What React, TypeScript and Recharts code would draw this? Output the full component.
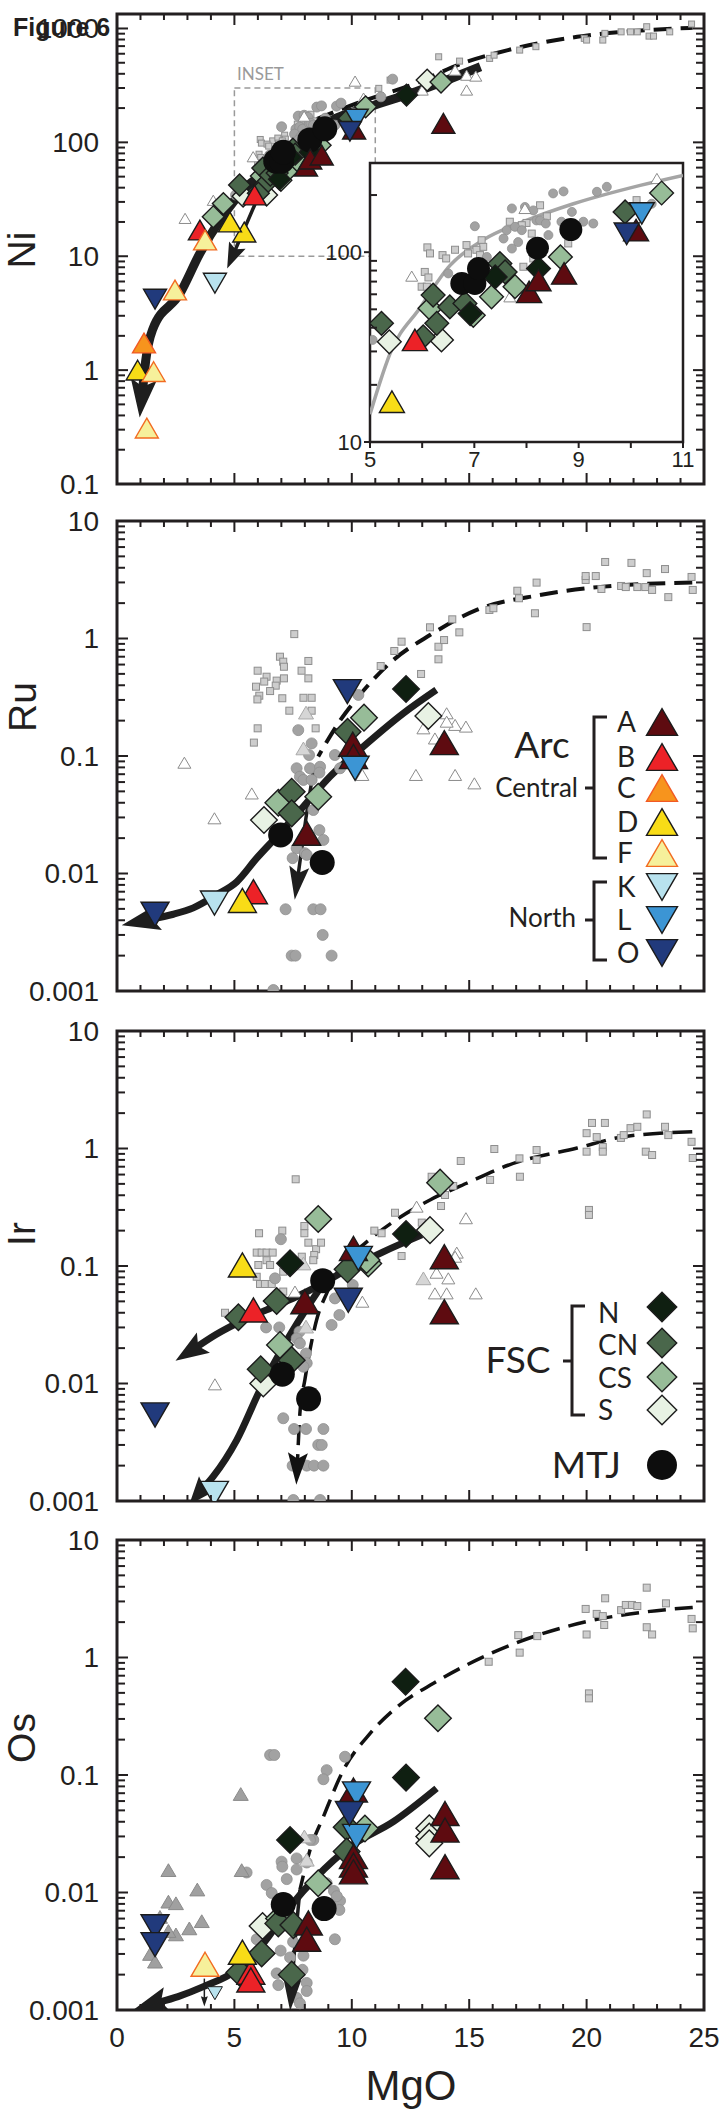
import React from 'react';
import { ComposedChart, Scatter, Line, XAxis, YAxis, ReferenceArea } from 'recharts';

type P = [number, number];

// ===================== Ni panel data (MgO, Ni) =====================
const niA: P[] = [[8.05, 61.8], [8.23, 71.3], [8.72, 77.3], [10.1, 130.6], [13.9, 147]];
const niB: P[] = [[5.86, 34.5], [3.53, 17]];
const niC: P[] = [[1.15, 1.73]];
const niD: P[] = [[5.42, 16.3], [4.81, 20], [0.88, 1.0]];
const niF: P[] = [[2.47, 5.05], [3.75, 13.9], [1.56, 0.97], [1.27, 0.31]];
const niK: P[] = [[4.17, 5.8]];
const niL: P[] = [[10.21, 160]];
const niO: P[] = [[9.92, 125], [1.62, 4.2]];
const niN: P[] = [[6.92, 47.5], [7.4, 74.1], [8.23, 82], [12.33, 260]];
const niCN: P[] = [[5.22, 42.2], [6.21, 59.4], [6.28, 42.2], [6.02, 35.8], [6.53, 51.5], [6.82, 53.7], [7.49, 87.1], [7.59, 78.7], [9.89, 163]];
const niCS: P[] = [[6.15, 50.6], [6.98, 46.5], [7.33, 58.2], [7.78, 65.8], [8.65, 94.4], [10.59, 205], [4.1, 22.2], [4.53, 29], [13.8, 339]];
const niS: P[] = [[5.37, 33.7], [6.37, 34.5], [13.21, 352]];
const niMTJ: P[] = [[6.76, 68.4], [7.01, 68.4], [7.08, 82], [8.21, 105], [8.85, 131.5]];
const niSq: P[] = [[6.1, 106], [6.15, 98.5], [6.63, 103], [6.85, 109], [7.14, 115.6], [6.88, 98.5], [6.39, 96.5], [6.46, 92.7], [6.05, 78.7], [6.12, 73.6], [5.99, 65.8], [6.09, 65.8], [7.17, 106.7], [7.04, 103], [7.11, 96.5], [7.94, 83.8], [8.13, 92.7], [8.26, 176.6], [8.39, 154.5], [8.0, 142.6], [7.91, 138.7], [8.1, 125.3], [8.26, 111.2], [8.8, 111.2], [10.11, 188], [7.68, 144.7], [11.15, 298], [11.63, 352], [13.7, 564], [14.59, 517], [15.87, 546], [16.06, 583], [17.15, 646], [17.84, 692], [19.9, 819], [20.0, 791], [20.69, 791], [20.78, 906], [21.47, 934], [21.87, 934], [22.16, 934], [22.56, 1036], [22.66, 857], [22.85, 857], [23.54, 934], [24.47, 1094]];
const niCirc: P[] = [[7.01, 137], [7.62, 130.6], [7.72, 170], [7.78, 136], [7.91, 130.6], [7.97, 173], [8.13, 166], [8.19, 147], [8.26, 147], [8.37, 141.6], [8.42, 123], [8.51, 204], [8.71, 209], [8.67, 144.7], [8.87, 163], [9.09, 144.7], [9.28, 141.6], [9.35, 208], [9.54, 221], [6.5, 77.3], [7.56, 118], [7.84, 113], [5.05, 34.5], [10.4, 180], [7.72, 104.5], [7.24, 94.4], [7.4, 87], [11.74, 359], [11.24, 251]];
const niOpen: P[] = [[5.8, 74.8], [7.97, 170], [10.5, 244.5], [7.68, 58.2], [2.9, 21.5], [4.1, 31], [10.14, 345], [14.4, 431], [14.89, 389], [15.28, 382], [14.89, 288], [13.0, 288]];
const niMainLine: P[] = [[15.48, 461], [12.72, 278], [10.75, 205], [9.18, 157], [7.79, 98], [6.66, 61], [5.52, 40.8], [4.39, 20.8], [3.53, 10.6], [2.68, 4.7], [1.51, 2.25], [1.22, 1.2], [1.1, 0.7]];
const niDashLine: P[] = [[8.5, 160], [10.17, 219], [12.72, 330], [14.69, 493], [16.65, 646], [19.6, 845], [22.56, 968], [24.52, 1014]];
const niArrowLine: P[] = [[6.6, 50], [5.95, 31], [5.03, 11.3]];
const insetCurve: P[] = [[5.0, 14], [5.2, 21], [5.38, 29], [5.96, 51], [6.53, 85], [7.17, 116], [8.0, 147], [8.9, 180], [10.18, 225], [11.0, 254]];

// ===================== Ru panel data =====================
const ruA: P[] = [[8.08, 0.022], [10.04, 0.126], [10.07, 0.099], [13.94, 0.13]];
const ruB: P[] = [[5.81, 0.007]];
const ruD: P[] = [[5.34, 0.0059]];
const ruK: P[] = [[4.15, 0.0056]];
const ruL: P[] = [[10.14, 0.0785]];
const ruO: P[] = [[1.62, 0.0045], [9.81, 0.353]];
const ruN: P[] = [[12.31, 0.372]];
const ruCN: P[] = [[7.44, 0.0497], [7.44, 0.0325], [9.82, 0.161]];
const ruCS: P[] = [[6.87, 0.04], [8.57, 0.045], [10.52, 0.212]];
const ruS: P[] = [[6.26, 0.0285], [13.26, 0.219]];
const ruMTJ: P[] = [[6.97, 0.0213], [8.74, 0.0124]];
const ruSq: P[] = [[7.55, 1.09], [6.94, 0.7], [7.08, 0.635], [7.11, 0.575], [5.99, 0.532], [6.37, 0.473], [6.27, 0.43], [6.8, 0.438], [6.76, 0.397], [7.11, 0.458], [7.86, 0.532], [8.15, 0.644], [8.15, 0.458], [5.92, 0.389], [6.06, 0.326], [5.98, 0.303], [6.52, 0.357], [7.04, 0.31], [7.94, 0.313], [8.29, 0.313], [7.34, 0.243], [8.29, 0.243], [5.99, 0.172], [8.46, 0.172], [5.83, 0.13], [11.23, 0.583], [11.81, 0.783], [12.12, 0.94], [12.95, 0.499], [13.33, 1.245], [13.69, 0.851], [13.93, 0.97], [13.69, 0.665], [14.28, 1.456], [14.58, 1.128], [15.86, 1.75], [16.03, 1.81], [17.05, 2.55], [17.12, 2.2], [17.8, 1.64], [17.87, 2.99], [20.0, 1.25], [19.96, 3.15], [19.96, 3.4], [20.39, 3.4], [20.63, 2.64], [20.79, 4.48], [21.47, 2.8], [21.67, 2.74], [21.91, 4.4], [22.16, 2.74], [22.56, 3.6], [22.5, 2.74], [22.79, 2.59], [23.34, 3.9], [23.48, 2.25], [24.47, 3.34], [24.52, 2.59]];
const ruCirc: P[] = [[7.72, 0.166], [8.29, 0.128], [8.18, 0.102], [7.65, 0.0786], [7.79, 0.0667], [8.22, 0.0786], [8.65, 0.081], [8.62, 0.0722], [7.94, 0.0625], [8.29, 0.0625], [8.36, 0.0347], [8.62, 0.0234], [8.79, 0.0193], [7.65, 0.0164], [8.0, 0.0149], [7.48, 0.0135], [8.08, 0.0144], [7.18, 0.00496], [8.36, 0.00496], [8.67, 0.00496], [8.76, 0.003], [7.44, 0.002], [7.6, 0.002], [9.14, 0.002], [6.66, 0.00102], [9.28, 0.102], [9.5, 0.0786], [10.28, 0.331]];
const ruOpen: P[] = [[2.87, 0.0877], [4.15, 0.0295], [5.74, 0.048], [10.45, 0.069], [12.73, 0.069], [14.4, 0.069], [15.22, 0.0585], [14.04, 0.231], [14.4, 0.184], [14.86, 0.178], [13.05, 0.172], [13.54, 0.141], [14.04, 0.196]];
const ruLightTri: P[] = [[8.05, 0.234], [7.94, 0.116]];
const ruMainLine: P[] = [[13.6, 0.365], [12.2, 0.231], [10.49, 0.12], [9.07, 0.0667], [7.94, 0.0372], [6.8, 0.0206], [5.95, 0.0135], [5.1, 0.0085], [4.25, 0.0066], [3.25, 0.0051], [2.4, 0.0045], [1.45, 0.0041]];
const ruDashLine: P[] = [[24.5, 3.0], [20.6, 2.75], [18.0, 2.34], [15.32, 1.75], [13.33, 1.07], [11.77, 0.656], [10.28, 0.32], [9.5, 0.2], [8.57, 0.099]];
const ruArrowLine: P[] = [[8.39, 0.081], [8.05, 0.03], [7.72, 0.0099]];

// ===================== Ir panel data =====================
const irA: P[] = [[8.0, 0.0497], [10.07, 0.141], [13.94, 0.12], [13.94, 0.0408]];
const irB: P[] = [[5.81, 0.0423]];
const irD: P[] = [[5.34, 0.102]];
const irK: P[] = [[4.15, 0.00116]];
const irL: P[] = [[10.28, 0.116]];
const irO: P[] = [[1.62, 0.0054], [9.85, 0.051]];
const irN: P[] = [[7.37, 0.1054], [12.31, 0.187]];
const irCN: P[] = [[5.17, 0.0366], [6.8, 0.0503], [7.44, 0.0158], [6.12, 0.0132], [9.82, 0.0937]];
const irCS: P[] = [[8.57, 0.251], [6.94, 0.0213], [10.7, 0.105], [10.63, 0.1125], [13.76, 0.512]];
const irS: P[] = [[6.23, 0.01], [13.33, 0.202]];
const irMTJ: P[] = [[8.76, 0.075], [7.04, 0.012], [8.16, 0.0074]];
const irSq: P[] = [[7.61, 0.547], [6.05, 0.19], [7.04, 0.2], [7.98, 0.219], [7.98, 0.19], [8.15, 0.158], [8.48, 0.139], [8.69, 0.158], [8.4, 0.124], [8.36, 0.112], [7.87, 0.12], [5.95, 0.13], [6.16, 0.13], [6.37, 0.13], [6.63, 0.13], [6.02, 0.102], [6.37, 0.112], [6.52, 0.102], [7.08, 0.0895], [5.95, 0.081], [6.09, 0.0703], [6.3, 0.0703], [6.59, 0.0703], [7.08, 0.0606], [4.6, 0.04], [11.84, 0.284], [12.12, 0.1216], [10.96, 0.2], [11.27, 0.19], [13.8, 0.324], [13.97, 0.402], [14.32, 0.48], [14.64, 0.783], [16.07, 0.99], [15.89, 0.54], [17.14, 0.824], [17.16, 0.575], [17.87, 0.97], [17.87, 0.8], [13.4, 0.575], [12.98, 0.234], [20.0, 1.35], [20.0, 0.94], [20.23, 1.65], [20.43, 1.25], [20.69, 1.03], [20.69, 0.94], [20.78, 1.65], [21.46, 1.23], [21.58, 1.3], [21.87, 1.49], [22.16, 1.53], [22.56, 1.95], [22.52, 0.94], [22.79, 0.88], [23.34, 1.53], [23.48, 1.3], [24.47, 1.14], [24.52, 0.83], [20.1, 0.3], [20.1, 0.272]];
const irCirc: P[] = [[6.98, 0.169], [6.73, 0.0785], [6.35, 0.03], [6.91, 0.03], [7.77, 0.0276], [7.65, 0.0242], [7.79, 0.022], [8.05, 0.018], [8.08, 0.0149], [7.94, 0.0139], [9.28, 0.053], [9.47, 0.0383], [9.14, 0.0315], [10.04, 0.069], [7.08, 0.00506], [7.54, 0.0041], [8.05, 0.0041], [8.79, 0.0041], [8.57, 0.003], [8.72, 0.003], [7.48, 0.002], [8.08, 0.002], [8.39, 0.002], [8.79, 0.002], [7.51, 0.00102], [8.65, 0.00102]];
const irOpen: P[] = [[7.58, 0.0606], [4.17, 0.00984], [10.45, 0.0497], [12.76, 0.32], [14.86, 0.255], [14.47, 0.13], [13.61, 0.0877], [14.11, 0.0785], [13.54, 0.0585], [14.04, 0.0585], [15.28, 0.0585], [14.4, 0.12]];
const irLightTri: P[] = [[8.05, 0.0305], [13.05, 0.0785], [7.94, 0.105]];
const irMainLine: P[] = [[12.98, 0.184], [11.34, 0.132], [9.64, 0.0895], [8.65, 0.069], [7.65, 0.0548], [6.37, 0.0423], [5.1, 0.0325], [4.2, 0.026], [3.42, 0.0206]];
const irSteepLine: P[] = [[8.79, 0.0713], [7.94, 0.0395], [7.08, 0.0206], [6.09, 0.0088], [5.1, 0.0033], [4.1, 0.00162], [3.68, 0.00129]];
const irDashLine: P[] = [[24.5, 1.39], [21.58, 1.26], [19.6, 1.01], [16.65, 0.72], [14.89, 0.506], [13.33, 0.365], [11.77, 0.238], [10.56, 0.156], [9.64, 0.105], [8.93, 0.0585], [8.5, 0.0347], [8.22, 0.0193], [8.0, 0.0107], [7.79, 0.0056], [7.69, 0.00224]];

// ===================== Os panel data =====================
const osA: P[] = [[8.15, 0.0055], [8.08, 0.004], [10.07, 0.0745], [10.07, 0.0202], [10.07, 0.0171], [10.07, 0.015], [13.97, 0.047], [13.97, 0.034], [13.97, 0.0166]];
const osB: P[] = [[5.7, 0.0021], [5.7, 0.0018]];
const osD: P[] = [[5.34, 0.0031]];
const osF: P[] = [[3.75, 0.00245]];
const osK: P[] = [[4.17, 0.00139]];
const osL: P[] = [[10.2, 0.069], [10.2, 0.03]];
const osO: P[] = [[1.62, 0.0051], [1.62, 0.0036], [9.9, 0.047]];
const osN: P[] = [[7.37, 0.028], [12.31, 0.095], [12.29, 0.622]];
const osCN: P[] = [[5.21, 0.00209], [6.16, 0.00303], [6.87, 0.00546], [7.51, 0.00528], [7.44, 0.002], [9.78, 0.036], [9.78, 0.0223]];
const osCS: P[] = [[6.9, 0.006], [8.57, 0.012], [10.56, 0.035], [13.67, 0.304]];
const osS: P[] = [[6.2, 0.00518], [13.3, 0.0352], [13.3, 0.0299], [13.3, 0.0262]];
const osMTJ: P[] = [[7.08, 0.0079], [8.82, 0.0073]];
const osSq: P[] = [[15.83, 0.92], [17.09, 1.55], [17.15, 1.1], [17.9, 1.52], [19.96, 2.59], [20.0, 1.57], [20.43, 2.35], [20.69, 2.25], [20.75, 1.89], [20.79, 3.19], [21.47, 2.53], [21.67, 2.8], [21.93, 2.8], [22.16, 2.74], [22.56, 3.93], [22.56, 1.81], [22.79, 1.57], [23.38, 2.89], [24.47, 2.13], [24.52, 1.77], [20.1, 0.495], [20.1, 0.449]];
const osCirc: P[] = [[6.52, 0.148], [6.7, 0.148], [9.71, 0.143], [8.93, 0.11], [8.79, 0.092], [8.36, 0.028], [7.01, 0.0183], [7.04, 0.0166], [7.65, 0.0195], [7.65, 0.0157], [8.08, 0.018], [7.23, 0.013], [6.37, 0.0116], [6.59, 0.0099], [9.24, 0.0103], [9.5, 0.0085], [9.47, 0.0071], [9.28, 0.004], [6.97, 0.0032], [5.95, 0.004], [6.8, 0.00205], [6.87, 0.00163], [7.37, 0.0028], [7.94, 0.0029], [8.08, 0.0017], [8.08, 0.00145], [7.65, 0.00127], [7.79, 0.00114], [8.93, 0.012], [9.36, 0.0093], [5.52, 0.0148], [8.22, 0.028], [7.9, 0.0022], [8.2, 0.0035], [7.5, 0.0038]];
const osGrayTri: P[] = [[5.27, 0.0689], [2.19, 0.0155], [5.31, 0.0155], [3.42, 0.0106], [2.19, 0.00836], [2.51, 0.0081], [1.83, 0.0062], [3.61, 0.0057], [3.08, 0.00495], [2.51, 0.0044], [2.19, 0.0047], [1.41, 0.003], [1.62, 0.00258]];
const osLightTri: P[] = [[7.98, 0.03], [8.08, 0.019]];
const osMainLine: P[] = [[13.61, 0.077], [11.77, 0.0401], [9.92, 0.0245], [8.5, 0.0136], [7.37, 0.00757], [6.23, 0.00369], [5.1, 0.00219], [3.68, 0.00158], [2.6, 0.0013], [1.83, 0.00117]];
const osDashLine: P[] = [[24.52, 2.67], [22.56, 2.45], [20.0, 2.02], [17.0, 1.33], [14.89, 0.863], [13.5, 0.607], [11.94, 0.381], [10.78, 0.226], [9.64, 0.11], [8.79, 0.0442], [8.22, 0.023], [7.79, 0.0105]];
const osArrowLine: P[] = [[7.79, 0.0105], [7.6, 0.0042], [7.45, 0.0016]];
const osSmallArrow: P[] = [[3.72, 0.00185], [3.72, 0.00125]];

// ===================== axes =====================
const xMajorTicks = [0, 5, 10, 15, 20, 25];
const niYDomain: P = [0.1, 1340];
const logYDomain: P = [0.001, 10];
const insetX: P = [5, 11];
const insetY: P = [10, 295];

// ===================== styles =====================
const INK = '#231f20';
const FONT = '"Liberation Sans", Arial, Helvetica, sans-serif';
const LFONT = 'Lato, "Open Sans", "Noto Sans", sans-serif';
const COL = {
  A: '#5e0b10', B: '#ec2227', C: '#f7941d', D: '#f8dc17', F: '#f6f09b',
  K: '#b8e2ee', L: '#3c95d4', O: '#213a7c',
  N: '#0f1f11', CN: '#4a674b', CS: '#97bc98', S: '#e8f2e4', MTJ: '#0d0d0d',
};

type Marker = (p: any) => React.ReactElement;

const triUp = (fill: string, stroke: string, w: number, h: number, sw = 1.4): Marker => (p: any) => {
  const { cx, cy } = p;
  if (cx == null || cy == null) return <g />;
  return <polygon points={`${cx},${cy - h / 2} ${cx + w / 2},${cy + h / 2} ${cx - w / 2},${cy + h / 2}`} fill={fill} stroke={stroke} strokeWidth={sw} />;
};
const triDown = (fill: string, stroke: string, w: number, h: number, sw = 1.4): Marker => (p: any) => {
  const { cx, cy } = p;
  if (cx == null || cy == null) return <g />;
  return <polygon points={`${cx - w / 2},${cy - h / 2} ${cx + w / 2},${cy - h / 2} ${cx},${cy + h / 2}`} fill={fill} stroke={stroke} strokeWidth={sw} />;
};
const diamond = (fill: string, w: number, h: number): Marker => (p: any) => {
  const { cx, cy } = p;
  if (cx == null || cy == null) return <g />;
  return <polygon points={`${cx},${cy - h / 2} ${cx + w / 2},${cy} ${cx},${cy + h / 2} ${cx - w / 2},${cy}`} fill={fill} stroke="#1b1b1b" strokeWidth={1.4} />;
};
const circ = (fill: string, r: number, stroke = 'none', sw = 0): Marker => (p: any) => {
  const { cx, cy } = p;
  if (cx == null || cy == null) return <g />;
  return <circle cx={cx} cy={cy} r={r} fill={fill} stroke={stroke} strokeWidth={sw} />;
};
const sq = (fill: string, stroke: string, s: number): Marker => (p: any) => {
  const { cx, cy } = p;
  if (cx == null || cy == null) return <g />;
  return <rect x={cx - s / 2} y={cy - s / 2} width={s} height={s} fill={fill} stroke={stroke} strokeWidth={1} />;
};

function groupShapes(s: number, r: number) {
  const th = s * 0.86;
  const k = '#1b1b1b';
  return {
    A: triUp(COL.A, k, s, th), B: triUp(COL.B, k, s, th), C: triUp(COL.C, '#f15a24', s, th),
    D: triUp(COL.D, k, s, th), F: triUp(COL.F, '#f26b21', s, th),
    K: triDown(COL.K, k, s, th), L: triDown(COL.L, k, s, th), O: triDown(COL.O, k, s, th),
    N: diamond(COL.N, s * 0.95, s * 0.95), CN: diamond(COL.CN, s * 0.95, s * 0.95),
    CS: diamond(COL.CS, s * 0.95, s * 0.95), S: diamond(COL.S, s * 0.95, s * 0.95),
    MTJ: circ(COL.MTJ, r),
  };
}

function bgShapes(sqS: number, cr: number, tw: number) {
  return {
    sq: sq('#cdcdcd', '#8e8e8e', sqS),
    circ: circ('#a2a2a2', cr, '#8f8f8f', 0.8),
    open: triUp('#ffffff', '#8c8c8c', tw, tw * 0.85, 1),
    gray: triUp('#a0a0a0', '#8a8a8a', tw + 2, (tw + 2) * 0.85, 1),
    light: triUp('#d6d6d6', '#aaaaaa', tw + 2, (tw + 2) * 0.85, 1),
  };
}

function makeArrowDot(n: number, len: number, half: number, color: string) {
  const pts: { x: number; y: number }[] = [];
  return (props: any) => {
    const { cx, cy, index } = props;
    pts[index] = { x: cx, y: cy };
    if (index !== n - 1 || index < 1) return <g key={`ad${index}`} />;
    const prev = (props.points && props.points[index - 1]) || pts[index - 1];
    const dx = cx - prev.x;
    const dy = cy - prev.y;
    const d = Math.hypot(dx, dy) || 1;
    const ux = dx / d, uy = dy / d;
    const px = -uy, py = ux;
    const back = len * 0.28;
    const tip = `${cx + ux * len},${cy + uy * len}`;
    const wl = `${cx - ux * back + px * half},${cy - uy * back + py * half}`;
    const wr = `${cx - ux * back - px * half},${cy - uy * back - py * half}`;
    const notch = `${cx - ux * 1},${cy - uy * 1}`;
    return <polygon key={`ad${index}`} points={`${tip} ${wl} ${notch} ${wr}`} fill={color} />;
  };
}

const xy = (a: P[]) => a.map(([x, y]) => ({ x, y }));

function logTicks(lo: number, hi: number) {
  const major: number[] = [];
  const minor: number[] = [];
  for (let e = Math.round(Math.log10(lo)); Math.pow(10, e) <= hi; e++) {
    const d = Math.pow(10, e);
    major.push(+d.toPrecision(3));
    for (let m = 2; m <= 9; m++) {
      const v = +(m * d).toPrecision(3);
      if (v < hi) minor.push(v);
    }
  }
  return { major, minor };
}

const tickShape = (side: string, maj: number, min: number): Marker => (p: any) => {
  const { cx, cy, payload } = p;
  if (cx == null || cy == null) return <g />;
  const L = payload && payload.major ? maj : min;
  let x2 = cx, y2 = cy;
  if (side === 'l') x2 = cx + L;
  else if (side === 'r') x2 = cx - L;
  else if (side === 't') y2 = cy + L;
  else y2 = cy - L;
  return <line x1={cx} y1={cy} x2={x2} y2={y2} stroke={INK} strokeWidth={2} />;
};

type SeriesSpec = { data: P[]; shape: Marker };
type LineSpec = { data: P[]; width: number; color: string; dash?: string; arrow?: [number, number]; curve?: string };

function seriesEls(prefix: string, list: SeriesSpec[]) {
  return list.map((s, i) => (
    <Scatter key={`${prefix}${i}`} data={xy(s.data)} dataKey="y" shape={s.shape} isAnimationActive={false} />
  ));
}

function lineEls(prefix: string, list: LineSpec[]) {
  return list.map((l, i) => (
    <Line
      key={`${prefix}${i}`}
      data={xy(l.data)}
      dataKey="y"
      type={(l.curve || 'monotone') as any}
      stroke={l.color}
      strokeWidth={l.width}
      strokeDasharray={l.dash}
      strokeLinecap="butt"
      strokeLinejoin="round"
      dot={l.arrow ? makeArrowDot(l.data.length, l.arrow[0], l.arrow[1], l.color) : false}
      activeDot={false}
      isAnimationActive={false}
    />
  ));
}

function tickEls(prefix: string, xd: P, yd: P) {
  const { major, minor } = logTicks(yd[0], yd[1]);
  const yT = [...major.map((v) => ({ v, major: true })), ...minor.map((v) => ({ v, major: false }))];
  const xT: { v: number; major: boolean }[] = [];
  for (let v = xd[0]; v <= xd[1]; v++) xT.push({ v, major: xMajorTicks.includes(v) });
  return [
    <Scatter key={`${prefix}tl`} data={yT.map((t) => ({ x: xd[0], y: t.v, major: t.major }))} dataKey="y" shape={tickShape('l', 11, 8)} isAnimationActive={false} />,
    <Scatter key={`${prefix}tr`} data={yT.map((t) => ({ x: xd[1], y: t.v, major: t.major }))} dataKey="y" shape={tickShape('r', 11, 8)} isAnimationActive={false} />,
    <Scatter key={`${prefix}tt`} data={xT.map((t) => ({ x: t.v, y: yd[1], major: t.major }))} dataKey="y" shape={tickShape('t', 11, 6)} isAnimationActive={false} />,
    <Scatter key={`${prefix}tb`} data={xT.map((t) => ({ x: t.v, y: yd[0], major: t.major }))} dataKey="y" shape={tickShape('b', 11, 6)} isAnimationActive={false} />,
  ];
}

type PanelCfg = {
  id: string; top: number; mt: number; plotH: number; yDomain: P; showX: boolean;
  bg: SeriesSpec[]; lines: LineSpec[]; fg: SeriesSpec[]; extra?: React.ReactNode[];
};

function renderPanel(c: PanelCfg) {
  const xd: P = [0, 25];
  const { major } = logTicks(c.yDomain[0], c.yDomain[1]);
  const mb = c.showX ? 0 : 18;
  const height = c.mt + c.plotH + (c.showX ? 45 : mb);
  return (
    <div key={c.id} style={{ position: 'absolute', left: 0, top: c.top }}>
      <ComposedChart width={725} height={height} margin={{ top: c.mt, right: 21, bottom: mb, left: 17 }}>
        <XAxis
          dataKey="x" type="number" domain={xd} allowDataOverflow ticks={xMajorTicks} interval={0}
          hide={!c.showX} height={45} tickLine={false} axisLine={false} tickSize={6} tickMargin={11}
          tick={{ fontSize: 28, fill: INK, fontFamily: FONT }}
        />
        <YAxis
          type="number" scale="log" domain={c.yDomain} allowDataOverflow ticks={major} interval={0}
          width={100} tickLine={false} axisLine={false} tickSize={6} tickMargin={12}
          tick={{ fontSize: 28, fill: INK, fontFamily: FONT }}
        />
        {c.extra || null}
        {seriesEls(`${c.id}bg`, c.bg)}
        {lineEls(`${c.id}ln`, c.lines)}
        {seriesEls(`${c.id}fg`, c.fg)}
        {tickEls(c.id, xd, c.yDomain)}
        <ReferenceArea x1={xd[0]} x2={xd[1]} y1={c.yDomain[0]} y2={c.yDomain[1]} fill="none" fillOpacity={0} stroke={INK} strokeWidth={3} ifOverflow="visible" />
      </ComposedChart>
    </div>
  );
}

const inRange = (a: P[]) => a.filter(([x, y]) => x >= insetX[0] && x <= insetX[1] && y >= insetY[0] && y <= insetY[1]);

function fgList(g: any, d: Record<string, P[]>): SeriesSpec[] {
  const order = ['S', 'CS', 'CN', 'N', 'MTJ', 'A', 'B', 'C', 'D', 'F', 'K', 'L', 'O'];
  return order.filter((k) => d[k]).map((k) => ({ data: d[k], shape: g[k] }));
}

export default function App() {
  const gNi = groupShapes(23, 12.5);
  const gIn = groupShapes(25, 11.5);
  const gBig = groupShapes(28, 12.5);
  const gLeg = groupShapes(31, 15);
  const bNi = bgShapes(6, 5, 12);
  const bIn = bgShapes(7, 4.5, 12);
  const bBig = bgShapes(7, 5.5, 13);

  const niData: Record<string, P[]> = { A: niA, B: niB, C: niC, D: niD, F: niF, K: niK, L: niL, O: niO, N: niN, CN: niCN, CS: niCS, S: niS, MTJ: niMTJ };
  const insetData: Record<string, P[]> = {};
  Object.keys(niData).forEach((k) => { insetData[k] = inRange(niData[k]); });

  const panels: PanelCfg[] = [
    {
      id: 'ni', top: 0, mt: 14, plotH: 470, yDomain: niYDomain, showX: false,
      extra: [<ReferenceArea key="insetbox" x1={5} x2={11} y1={10} y2={300} fill="none" fillOpacity={0} stroke="#9a9a9a" strokeWidth={1.5} strokeDasharray="6 4" ifOverflow="visible" />],
      bg: [{ data: niSq, shape: bNi.sq }, { data: niCirc, shape: bNi.circ }, { data: niOpen, shape: bNi.open }],
      lines: [
        { data: niDashLine, width: 4, color: '#111', dash: '18 9' },
        { data: niMainLine, width: 9, color: '#1e1e1e', arrow: [30, 13] },
        { data: niArrowLine, width: 3.5, color: '#1e1e1e', arrow: [20, 9], curve: 'linear' },
      ],
      fg: fgList(gNi, niData),
    },
    {
      id: 'ru', top: 500, mt: 21, plotH: 470, yDomain: logYDomain, showX: false,
      bg: [{ data: ruSq, shape: bBig.sq }, { data: ruCirc, shape: bBig.circ }, { data: ruOpen, shape: bBig.open }, { data: ruLightTri, shape: bBig.light }],
      lines: [
        { data: ruDashLine, width: 4, color: '#111', dash: '18 9' },
        { data: ruMainLine, width: 7, color: '#1e1e1e', arrow: [30, 13] },
        { data: ruArrowLine, width: 3.5, color: '#1e1e1e', arrow: [26, 10], curve: 'linear' },
      ],
      fg: fgList(gBig, { A: ruA, B: ruB, D: ruD, K: ruK, L: ruL, O: ruO, N: ruN, CN: ruCN, CS: ruCS, S: ruS, MTJ: ruMTJ }),
    },
    {
      id: 'ir', top: 1010, mt: 21, plotH: 470, yDomain: logYDomain, showX: false,
      bg: [{ data: irSq, shape: bBig.sq }, { data: irCirc, shape: bBig.circ }, { data: irOpen, shape: bBig.open }, { data: irLightTri, shape: bBig.light }],
      lines: [
        { data: irDashLine, width: 3.5, color: '#111', dash: '20 9', arrow: [25, 10] },
        { data: irMainLine, width: 7, color: '#1e1e1e', arrow: [26, 12] },
        { data: irSteepLine, width: 7, color: '#1e1e1e', arrow: [22, 11] },
      ],
      fg: fgList(gBig, { A: irA, B: irB, D: irD, K: irK, L: irL, O: irO, N: irN, CN: irCN, CS: irCS, S: irS, MTJ: irMTJ }),
    },
    {
      id: 'os', top: 1520, mt: 20, plotH: 470, yDomain: logYDomain, showX: true,
      bg: [{ data: osSq, shape: bBig.sq }, { data: osCirc, shape: bBig.circ }, { data: osGrayTri, shape: bBig.gray }, { data: osLightTri, shape: bBig.light }],
      lines: [
        { data: osDashLine, width: 3.5, color: '#111', dash: '18 9' },
        { data: osArrowLine, width: 3.5, color: '#1e1e1e', arrow: [25, 9], curve: 'linear' },
        { data: osMainLine, width: 7, color: '#1e1e1e', arrow: [28, 13] },
        { data: osSmallArrow, width: 1.5, color: '#1e1e1e', arrow: [8, 3.5], curve: 'linear' },
      ],
      fg: [
        ...fgList(gBig, { A: osA, B: osB, D: osD, F: osF, L: osL, O: osO, N: osN, CN: osCN, CS: osCS, S: osS, MTJ: osMTJ }),
        { data: osK, shape: triDown(COL.K, '#1b1b1b', 15, 13, 1) },
      ],
    },
  ];

  const insetMinor = [20, 30, 40, 50, 60, 70, 80, 90, 200];

  const legendMark = (k: string, y: number) => (gLeg as any)[k]({ cx: 662, cy: y });

  return (
    <div style={{ position: 'absolute', left: 0, top: 0, width: 725, height: 2112, background: '#fff', fontFamily: FONT }}>
      {panels.map(renderPanel)}

      {/* inset */}
      <div style={{ position: 'absolute', left: 370, top: 163, width: 313, height: 279, background: '#fff' }} />
      <div style={{ position: 'absolute', left: 300, top: 150 }}>
        <ComposedChart width={400} height={330} margin={{ top: 13, right: 17, bottom: 8, left: 20 }}>
          <XAxis
            dataKey="x" type="number" domain={insetX} allowDataOverflow ticks={[5, 6, 7, 8, 9, 10, 11]} interval={0}
            tickFormatter={(v: number) => (v % 2 === 1 ? String(v) : '')} height={30} tickSize={6} tickMargin={3}
            tickLine={{ stroke: INK, strokeWidth: 2 }} axisLine={false}
            tick={{ fontSize: 22, fill: INK, fontFamily: FONT }}
          />
          <YAxis
            type="number" scale="log" domain={insetY} allowDataOverflow ticks={[10, 100]} interval={0}
            width={50} tickSize={6} tickMargin={2} tickLine={{ stroke: INK, strokeWidth: 2 }} axisLine={false}
            tick={{ fontSize: 22, fill: INK, fontFamily: FONT }}
          />
          {seriesEls('inbg', [
            { data: inRange(niSq), shape: bIn.sq },
            { data: inRange(niCirc), shape: bIn.circ },
            { data: inRange(niOpen), shape: bIn.open },
          ])}
          {lineEls('inln', [{ data: insetCurve, width: 3.5, color: '#a5a5a5' }])}
          {seriesEls('infg', fgList(gIn, insetData))}
          <Scatter data={insetMinor.map((v) => ({ x: 5, y: v, major: false }))} dataKey="y" shape={tickShape('l', 8, 7)} isAnimationActive={false} />
          <ReferenceArea x1={5} x2={11} y1={insetY[0]} y2={insetY[1]} fill="none" fillOpacity={0} stroke={INK} strokeWidth={2.5} ifOverflow="visible" />
        </ComposedChart>
      </div>

      {/* text + legends overlay */}
      <svg width={725} height={2112} style={{ position: 'absolute', left: 0, top: 0, pointerEvents: 'none' }}>
        <text x={13} y={36} fontSize={25} fontWeight="bold" fontFamily={FONT} fill={INK}>Figure 6</text>
        <text x={237} y={80} fontSize={17} fontFamily={LFONT} fill="#9a9a9a">INSET</text>

        <text x={35} y={250} transform="rotate(-90 35 250)" textAnchor="middle" fontSize={39} fontFamily={FONT} fill={INK}>Ni</text>
        <text x={36} y={707} transform="rotate(-90 36 707)" textAnchor="middle" fontSize={39} fontFamily={FONT} fill={INK}>Ru</text>
        <text x={35} y={1234} transform="rotate(-90 35 1234)" textAnchor="middle" fontSize={39} fontFamily={FONT} fill={INK}>Ir</text>
        <text x={35} y={1738} transform="rotate(-90 35 1738)" textAnchor="middle" fontSize={39} fontFamily={FONT} fill={INK}>Os</text>
        <text x={411} y={2100} textAnchor="middle" fontSize={42} fontFamily={FONT} fill={INK}>MgO</text>

        {/* Arc legend */}
        <g fontFamily={LFONT} fill={INK}>
          <text x={542} y={758} textAnchor="middle" fontSize={37}>Arc</text>
          <text x={578} y={797} textAnchor="end" fontSize={26}>Central</text>
          <text x={576} y={927} textAnchor="end" fontSize={26}>North</text>
          {[['A', 732], ['B', 767], ['C', 798], ['D', 832], ['F', 863], ['K', 897], ['L', 930], ['O', 963]].map(([t, y]) => (
            <text key={t as string} x={617} y={y as number} fontSize={28}>{t}</text>
          ))}
          <text x={518} y={1373} textAnchor="middle" fontSize={37}>FSC</text>
          {[['N', 1323], ['CN', 1355], ['CS', 1388], ['S', 1420]].map(([t, y]) => (
            <text key={t as string} x={598} y={y as number} fontSize={28}>{t}</text>
          ))}
          <text x={621} y={1478} textAnchor="end" fontSize={37}>MTJ</text>
        </g>
        <g stroke={INK} strokeWidth={3} fill="none">
          <polyline points="607,717 594,717 594,858 607,858" />
          <line x1={585} y1={788} x2={594} y2={788} />
          <polyline points="607,882 594,882 594,960 607,960" />
          <line x1={585} y1={920} x2={594} y2={920} />
          <polyline points="585,1306 572,1306 572,1415 585,1415" />
          <line x1={563} y1={1361} x2={572} y2={1361} />
        </g>
        {legendMark('A', 722)}
        {legendMark('B', 757)}
        {legendMark('C', 788)}
        {legendMark('D', 822)}
        {legendMark('F', 853)}
        {legendMark('K', 887)}
        {legendMark('L', 920)}
        {legendMark('O', 953)}
        {legendMark('N', 1307)}
        {legendMark('CN', 1343)}
        {legendMark('CS', 1377)}
        {legendMark('S', 1410)}
        {legendMark('MTJ', 1465)}
      </svg>
    </div>
  );
}
